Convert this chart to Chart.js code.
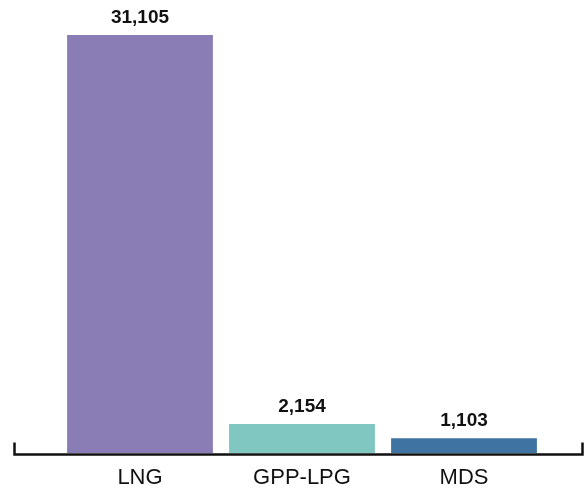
<!DOCTYPE html>
<html lang="en">
<head>
<meta charset="UTF-8">
<title>Chart</title>
<style>
  html, body { margin: 0; padding: 0; background: #fff; }
  #wrap { width: 584px; height: 492px; }
</style>
</head>
<body>
<div id="wrap"><canvas id="grafico" width="584" height="492"></canvas></div>
<script src="https://cdn.jsdelivr.net/npm/chart.js"></script>
<script>
const categories = ['LNG', 'GPP-LPG', 'MDS'];
const values = [31105, 2154, 1103];
const barColors = ['#8a7cb5', '#80c6c1', '#3f73a2'];

// axis line with end ticks, drawn under the bars
const axisLine = {
  id: 'axisLine',
  beforeDatasetsDraw(chart) {
    const ctx = chart.ctx;
    const y = chart.chartArea.bottom + 1.5;
    ctx.save();
    ctx.strokeStyle = '#111';
    ctx.lineWidth = 2.5;
    ctx.beginPath();
    ctx.moveTo(14.5, y - 12);
    ctx.lineTo(14.5, y);
    ctx.lineTo(582.5, y);
    ctx.lineTo(582.5, y - 12);
    ctx.stroke();
    ctx.restore();
  }
};

// value labels above bars
const valueLabels = {
  id: 'valueLabels',
  afterDatasetsDraw(chart) {
    const ctx = chart.ctx;
    const meta = chart.getDatasetMeta(0);
    ctx.save();
    ctx.font = 'bold 19px "Liberation Sans", Arial, sans-serif';
    ctx.fillStyle = '#111';
    ctx.textAlign = 'center';
    ctx.textBaseline = 'alphabetic';
    meta.data.forEach((bar, i) => {
      ctx.fillText(values[i].toLocaleString('en-US'), bar.x, bar.y - 12);
    });
    ctx.restore();
  }
};

new Chart(document.getElementById('grafico'), {
  type: 'bar',
  data: {
    labels: categories,
    datasets: [{
      data: values,
      backgroundColor: barColors,
      barPercentage: 0.9,
      categoryPercentage: 1.0
    }]
  },
  options: {
    responsive: false,
    animation: false,
    layout: { padding: { left: 59, right: 39, top: 35, bottom: -11 } },
    plugins: { legend: { display: false }, tooltip: { enabled: false } },
    scales: {
      x: {
        grid: { display: false, drawTicks: false },
        border: { display: false },
        ticks: {
          color: '#111',
          padding: 14,
          font: { family: '"Liberation Sans Narrow", "Liberation Sans", Arial, sans-serif', size: 22, lineHeight: 1 }
        }
      },
      y: {
        display: false,
        min: 0,
        max: 31105
      }
    }
  },
  plugins: [axisLine, valueLabels]
});
</script>
</body>
</html>
